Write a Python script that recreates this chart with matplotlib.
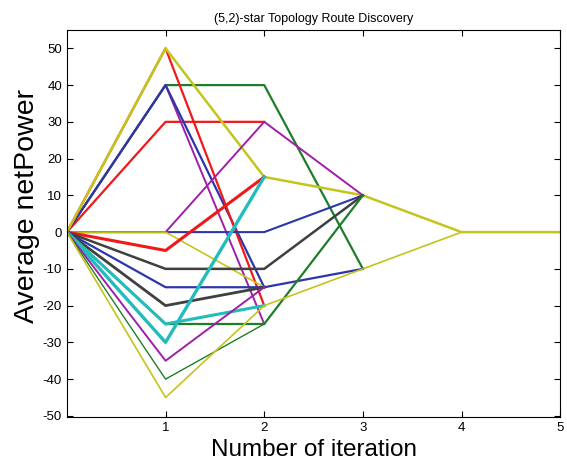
import matplotlib.pyplot as plt

plt.rcParams['font.family'] = ['Liberation Sans', 'DejaVu Sans']
plt.rcParams['axes.unicode_minus'] = False

# MATLAB-style colour order
colors = {
    "b": "#2b36a8",
    "g": "#1e7d2a",
    "r": "#f01818",
    "c": "#22bcbc",
    "m": "#a01ea8",
    "y": "#c4c41c",
    "k": "#404040",
}

# netPower per iteration for each route (x = 0, 1, 2, ...)
routes = [
    ("g", [0, 40, 40, -10], 1.6),
    ("r", [0, 30, 30], 1.6),
    ("m", [0, 40, -25], 1.4),
    ("b", [0, 40, -15], 1.6),
    ("r", [0, 50, -20], 1.6),
    ("y", [0, 50, 15, 10, 0, 0], 1.8),
    ("m", [0, 0, 30, 10], 1.4),
    ("b", [0, 0, 0, 10], 1.5),
    ("y", [0, 0, -15], 1.2),
    ("r", [0, -5, 15], 2.2),
    ("k", [0, -10, -10, 10], 1.8),
    ("b", [0, -15, -15, -10], 1.6),
    ("k", [0, -20, -15], 2.0),
    ("g", [0, -25, -25, 10], 1.6),
    ("c", [0, -25, -20], 2.2),
    ("c", [0, -30, 15], 2.4),
    ("m", [0, -35, -15], 1.4),
    ("g", [0, -40, -25], 1.0),
    ("y", [0, -45, -20, -10, 0], 1.2),
]

fig = plt.figure(figsize=(5.67, 4.68), dpi=100)
ax = fig.add_axes([0.118, 0.109, 0.870, 0.827])

for c, vals, lw in routes:
    ax.plot(range(len(vals)), vals, color=colors[c], linewidth=lw)

ax.set_xlim(0, 5)
ax.set_ylim(-50.3, 55)
ax.set_xticks([1, 2, 3, 4, 5])
ax.set_yticks(range(-50, 51, 10))
ax.tick_params(direction="in", top=True, right=True, labelsize=9.5, length=4)
ax.set_title("(5,2)-star Topology Route Discovery", fontsize=9, pad=6)
ax.set_xlabel("Number of iteration", fontsize=17.5)
ax.set_ylabel("Average netPower", fontsize=20.5)
ax.xaxis.set_label_coords(0.5, -0.058)
ax.yaxis.set_label_coords(-0.055, 0.545)

fig.savefig("out.png")
